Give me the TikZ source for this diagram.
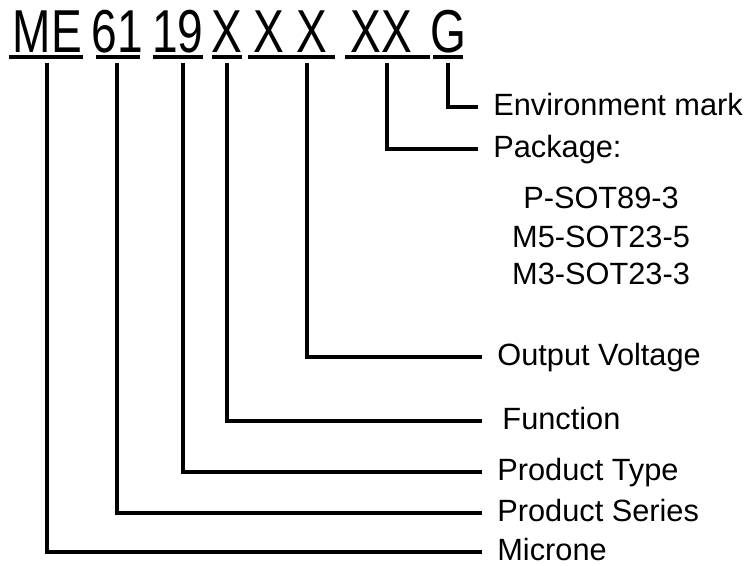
\documentclass[tikz,border=0pt]{standalone}
\usepackage{fontspec}
\setmainfont{Liberation Sans}
\usepackage{graphicx}
\usetikzlibrary{positioning}

\newcommand{\narrowtxt}[1]{\scalebox{0.76}[1]{#1}}

\begin{document}
\begin{tikzpicture}[
    x=0.02cm, y=-0.02cm,
    code/.style={anchor=base, inner sep=0pt, font=\fontsize{34.5pt}{38pt}\selectfont},
    field/.style={anchor=west, inner xsep=0.3cm, inner ysep=0pt, text height=0.44cm, text depth=0.12cm, font=\fontsize{17.5pt}{20pt}\selectfont},
    pkgitem/.style={inner sep=0pt, text height=0.44cm, text depth=0pt, font=\fontsize{17.5pt}{20pt}\selectfont},
    wire/.style={line width=1.8pt}
]
\useasboundingbox (0,0) rectangle (750,565);

% Part number, group by group
\node[code] (gme)  at (47.5,52) {\narrowtxt{ME}};
\node[code] (g61)  at (117.5,52) {\narrowtxt{61}};
\node[code] (g19)  at (178,52) {\narrowtxt{19}};
\node[code] (gfn)  at (227,52) {\narrowtxt{X}};
\node[code] (gvo)  at (290.5,52) {\narrowtxt{X X}};
\node[code] (gpk)  at (381,52) {\narrowtxt{XX}};
\node[code] (genv) at (448,52) {\narrowtxt{G}};

% Underlines
\foreach \a/\b in {9/83, 96/140, 153/203, 212/242, 248/335, 345/430, 433/463}
    \draw[wire] (\a,57) -- (\b,57);

% Tops of the leader lines
\coordinate (tme)  at (47,63);
\coordinate (t61)  at (117,63);
\coordinate (t19)  at (183,63);
\coordinate (tfn)  at (227,63);
\coordinate (tvo)  at (307,63);
\coordinate (tpk)  at (387,63);
\coordinate (tenv) at (448,63);

% Field names
\node[field] (env)     at (478,107) {Environment mark};
\node[field] (pkg)     at (478,149) {Package:};
\node[field] (vout)    at (482,357) {Output Voltage};
\node[field] (func)    at (482,421) {\,Function};
\node[field] (ptype)   at (482,472) {Product Type};
\node[field] (pseries) at (482,513) {Product Series};
\node[field] (microne) at (482,552) {Microne};

% Package options
\node[pkgitem] (pkga) at (601,197.5) {P-SOT89-3};
\node[pkgitem, below=0.32cm of pkga] (pkgb) {M5-SOT23-5};
\node[pkgitem, below=0.29cm of pkgb] (pkgc) {M3-SOT23-3};

% Leader lines
\draw[wire] (tenv) |- (env.west);
\draw[wire] (tpk) |- (pkg.west);
\draw[wire] (tvo) |- (vout.west);
\draw[wire] (tfn) |- (func.west);
\draw[wire] (t19) |- (ptype.west);
\draw[wire] (t61) |- (pseries.west);
\draw[wire] (tme) |- (microne.west);
\end{tikzpicture}
\end{document}
